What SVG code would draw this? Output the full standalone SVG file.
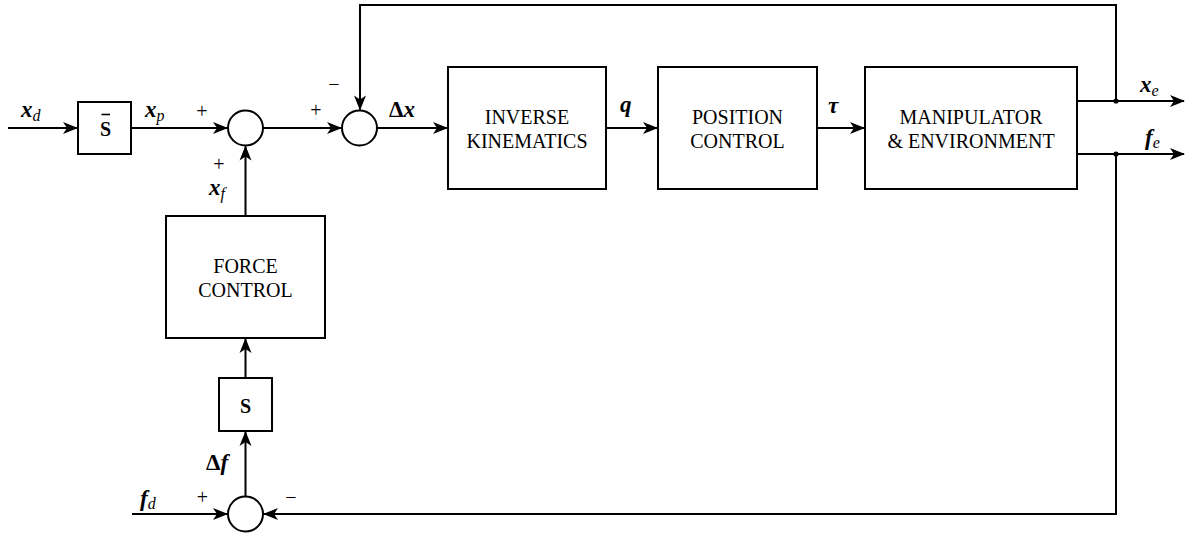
<svg xmlns="http://www.w3.org/2000/svg" width="1194" height="535" viewBox="0 0 1194 535">
  <style>
    .box { fill: #fff; stroke: #000; stroke-width: 2; }
    .sum { fill: #fff; stroke: #000; stroke-width: 2; }
    .wire { fill: none; stroke: #000; stroke-width: 2; }
    text { font-family: "Liberation Serif", "Times New Roman", Times, "DejaVu Serif", "Noto Serif", serif; fill: #000; }
    .lbl { font-size: 20px; text-anchor: middle; }
    .var { font-size: 23px; font-weight: bold; font-style: italic; }
    .sub { font-size: 16px; font-weight: normal; font-style: italic; }
    .up { font-style: normal; }
    .sign { font-size: 20px; text-anchor: middle; }
  </style>
  <defs>
    <marker id="arrow" markerUnits="userSpaceOnUse" markerWidth="18" markerHeight="14" viewBox="-15 -7 17 14" refX="0" refY="0" orient="auto">
      <path d="M1,0 L-14,-6 L-10,0 L-14,6 Z" fill="#000"/>
    </marker>
  </defs>
  <rect width="1194" height="535" fill="#fff"/>

  <!-- connectors -->
  <g id="connectors" class="wire">
    <line x1="8" y1="128" x2="77" y2="128" marker-end="url(#arrow)"/>
    <line x1="131" y1="128" x2="227" y2="128" marker-end="url(#arrow)"/>
    <line x1="263" y1="128" x2="341" y2="128" marker-end="url(#arrow)"/>
    <line x1="377" y1="128" x2="447" y2="128" marker-end="url(#arrow)"/>
    <line x1="606" y1="128" x2="657" y2="128" marker-end="url(#arrow)"/>
    <line x1="817" y1="128" x2="864" y2="128" marker-end="url(#arrow)"/>
    <line x1="1077" y1="101" x2="1184" y2="101" marker-end="url(#arrow)"/>
    <line x1="1077" y1="154" x2="1184" y2="154" marker-end="url(#arrow)"/>
    <polyline points="1116,101 1116,5 360,5 360,109.5" marker-end="url(#arrow)"/>
    <polyline points="1116,154 1116,514 264,514" marker-end="url(#arrow)"/>
    <line x1="132" y1="514" x2="227" y2="514" marker-end="url(#arrow)"/>
    <line x1="245.5" y1="496" x2="245.5" y2="432" marker-end="url(#arrow)"/>
    <line x1="245.5" y1="378" x2="245.5" y2="339" marker-end="url(#arrow)"/>
    <line x1="245.5" y1="216" x2="245.5" y2="146.5" marker-end="url(#arrow)"/>
    <circle cx="1116" cy="101" r="2.6" fill="#000" stroke="none"/>
    <circle cx="1116" cy="154" r="2.6" fill="#000" stroke="none"/>
  </g>

  <!-- selection matrix (complement) -->
  <g id="sbar">
    <rect class="box" x="78" y="102" width="53" height="52"/>
    <text class="lbl" x="105.5" y="136" font-weight="bold">S</text>
    <line x1="101.5" y1="114.5" x2="110" y2="114.5" stroke="#000" stroke-width="1.6"/>
  </g>

  <!-- summing junctions -->
  <g id="sum1"><circle class="sum" cx="245.5" cy="128" r="17.5"/></g>
  <g id="sum2"><circle class="sum" cx="359.5" cy="128" r="17.5"/></g>
  <g id="sum3"><circle class="sum" cx="245.5" cy="514" r="17.5"/></g>

  <g id="inverse-kinematics">
    <rect class="box" x="448" y="67" width="158" height="122"/>
    <text class="lbl" x="527" y="124">INVERSE</text>
    <text class="lbl" x="527" y="148">KINEMATICS</text>
  </g>

  <g id="position-control">
    <rect class="box" x="658" y="67" width="159" height="122"/>
    <text class="lbl" x="737.5" y="124">POSITION</text>
    <text class="lbl" x="737.5" y="148">CONTROL</text>
  </g>

  <g id="manipulator">
    <rect class="box" x="865" y="67" width="212" height="122"/>
    <text class="lbl" x="971" y="124">MANIPULATOR</text>
    <text class="lbl" x="971" y="148">&amp; ENVIRONMENT</text>
  </g>

  <g id="force-control">
    <rect class="box" x="166" y="216" width="159" height="122"/>
    <text class="lbl" x="245.5" y="273">FORCE</text>
    <text class="lbl" x="245.5" y="297">CONTROL</text>
  </g>

  <g id="s">
    <rect class="box" x="219" y="378" width="53" height="53"/>
    <text class="lbl" x="245.5" y="413" font-weight="bold">S</text>
  </g>

  <!-- signal labels -->
  <g id="labels">
    <text class="var" x="21" y="117">x<tspan class="sub" dy="4">d</tspan></text>
    <text class="var" x="145" y="117">x<tspan class="sub" dy="4">p</tspan></text>
    <text class="var" x="209" y="195">x<tspan class="sub" dy="4">f</tspan></text>
    <text class="var" x="389" y="117"><tspan class="up">Δ</tspan>x</text>
    <text class="var" x="620" y="112">q</text>
    <text class="var" x="828" y="113">τ</text>
    <text class="var" x="1140" y="92">x<tspan class="sub" dy="4">e</tspan></text>
    <text class="var" x="1145" y="145">f<tspan class="sub" dy="3">e</tspan></text>
    <text class="var" x="206" y="470"><tspan class="up">Δ</tspan>f</text>
    <text class="var" x="140" y="506">f<tspan class="sub" dy="3">d</tspan></text>

    <text class="sign" x="202" y="118">+</text>
    <text class="sign" x="219" y="171">+</text>
    <text class="sign" x="316" y="117">+</text>
    <text class="sign" x="334" y="91">−</text>
    <text class="sign" x="202.5" y="504">+</text>
    <text class="sign" x="291" y="504">−</text>
  </g>
</svg>
